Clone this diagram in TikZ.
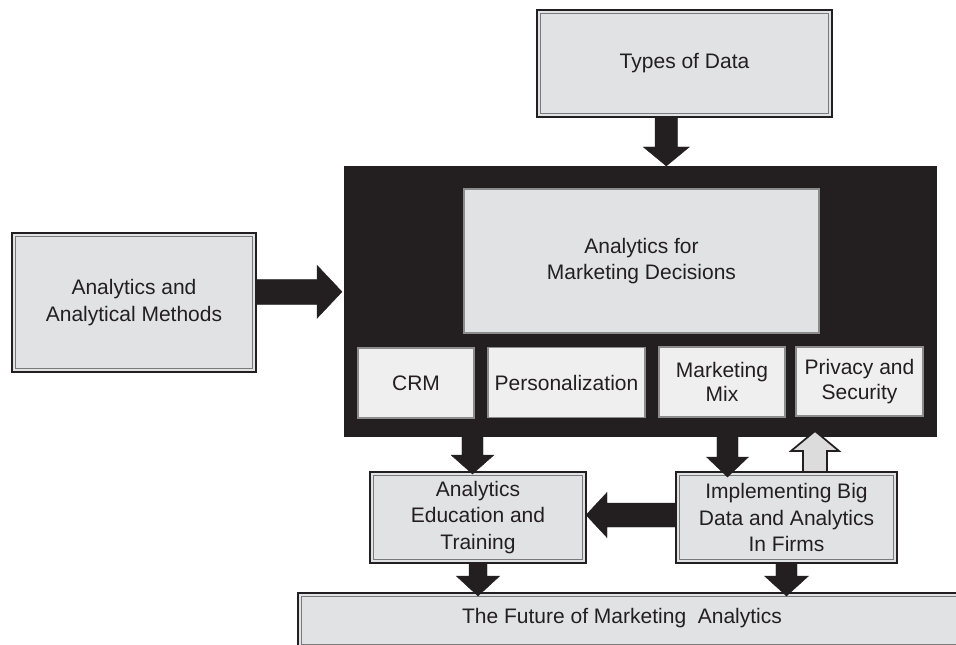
\documentclass[tikz,border=0pt]{standalone}
\usepackage{fontspec}
\setmainfont{Liberation Sans}
\usetikzlibrary{calc}
\definecolor{ink}{HTML}{231F20}
\definecolor{boxgray}{HTML}{E1E2E4}
\definecolor{lightbox}{HTML}{EFEFEF}
\definecolor{innerline}{HTML}{7A7A7A}
\definecolor{thinline}{HTML}{8C8C8C}
\definecolor{hollowfill}{HTML}{DCDCDC}

\newcommand{\blockarrow}[6]{%
  \coordinate (ba-s) at (#2);
  \coordinate (ba-t) at (#3);
  \coordinate (ba-h) at ($(ba-t)!#6!(ba-s)$);
  \filldraw[#1] ($(ba-s)!#4!90:(ba-t)$) -- ($(ba-h)!#4!90:(ba-t)$) -- ($(ba-h)!#5!90:(ba-t)$) -- (ba-t) -- ($(ba-h)!#5!-90:(ba-t)$) -- ($(ba-h)!#4!-90:(ba-t)$) -- ($(ba-s)!#4!-90:(ba-t)$) -- cycle;
}

\tikzset{
  txt/.style={font=\fontsize{15.75pt}{20pt}\selectfont, text=ink, align=center},
  smalltxt/.style={font=\fontsize{15.75pt}{18.25pt}\selectfont, text=ink, align=center},
  dbox/.style={txt, fill=boxgray, draw=ink, line width=1.6pt, inner sep=0pt, outer sep=0pt,
    path picture={\draw[innerline, line width=0.6pt]
      ([shift={(2.5pt,-2.5pt)}]path picture bounding box.north west) rectangle
      ([shift={(-2.5pt,2.5pt)}]path picture bounding box.south east);}},
  amdbox/.style={txt, fill=boxgray, draw=thinline, line width=1pt, inner sep=0pt, outer sep=0pt},
  smallbox/.style={smalltxt, fill=lightbox, draw=thinline, line width=1pt, inner sep=0pt, outer sep=0pt, minimum height=52.5pt},
  blockarr/.style={fill=ink, draw=ink, line width=0.3pt, line join=miter},
  hollowarr/.style={fill=hollowfill, draw=ink, line width=1.3pt, line join=miter},
}

\begin{document}
\begin{tikzpicture}[x=0.75pt, y=-0.75pt]
\useasboundingbox (0,0) rectangle (956,645);

% central black panel and its contents
\node[fill=ink, draw=ink, inner sep=0pt, outer sep=0pt, minimum width=444pt, minimum height=202.5pt] (black) at (640,301) {};
\node[amdbox, minimum width=266.25pt, minimum height=108pt] (amd) at (641.5,261) {Analytics for\\Marketing Decisions};
\node[smallbox, minimum width=87pt] (crm) at (416,383) {CRM};
\node[smallbox, minimum width=117.75pt] (pers) at (566.5,382.5) {Personalization};
\node[smallbox, minimum width=94.5pt] (mix) at (722,382) {Marketing\\Mix};
\node[smallbox, minimum width=95.25pt, minimum height=51.75pt] (priv) at (859.5,381.5) {Privacy and\\Security};

% outer boxes
\node[dbox, minimum width=221.25pt, minimum height=80.25pt] (types) at (684.5,63.5) {Types of Data};
\node[dbox, minimum width=183pt, minimum height=104.25pt] (methods) at (134,302.5) {Analytics and\\Analytical Methods};
\node[dbox, minimum width=162pt, minimum height=68.25pt] (edu) at (478,517.5) {Analytics\\Education and\\Training};
\node[dbox, minimum width=165.75pt, minimum height=68.25pt] (impl) at (786.5,517.5) {Implementing Big\\Data and Analytics\\In Firms};
\node[dbox, minimum width=507.75pt, minimum height=41.25pt] (future) at (636.5,620.5) {};
\node[txt] (futuretext) at (622,618) {The Future of Marketing\ \ Analytics};

% reference lines for the arrows
\coordinate (xa) at (666.3,0);
\coordinate (ya) at (0,291.8);
\coordinate (xb) at (472.5,0);
\coordinate (xc) at (727.5,0);
\coordinate (xd) at (815,0);
\coordinate (ye) at (0,515);

% arrows
\blockarrow{blockarr}{xa |- types.south}{xa |- black.north}{8.4pt}{17.25pt}{14.25pt}
\blockarrow{blockarr}{methods.east |- ya}{$(black.west |- ya)+(-2,0)$}{9.4pt}{19.9pt}{18.75pt}
\blockarrow{blockarr}{xb |- black.south}{$(xb |- edu.north)+(0,2)$}{7.9pt}{16.1pt}{14.25pt}
\blockarrow{blockarr}{xc |- black.south}{$(xc |- impl.north)+(0,5)$}{7.9pt}{15.75pt}{15pt}
\blockarrow{hollowarr}{xd |- impl.north}{$(xd |- black.south)+(0,-5)$}{9pt}{18pt}{15pt}
\blockarrow{blockarr}{impl.west |- ye}{edu.east |- ye}{9pt}{16.9pt}{15.75pt}
\blockarrow{blockarr}{edu.south}{$(edu.south |- future.north)+(0,3)$}{6.75pt}{16.3pt}{15pt}
\blockarrow{blockarr}{impl.south}{$(impl.south |- future.north)+(0,3)$}{7.9pt}{16.5pt}{15pt}
\end{tikzpicture}
\end{document}
